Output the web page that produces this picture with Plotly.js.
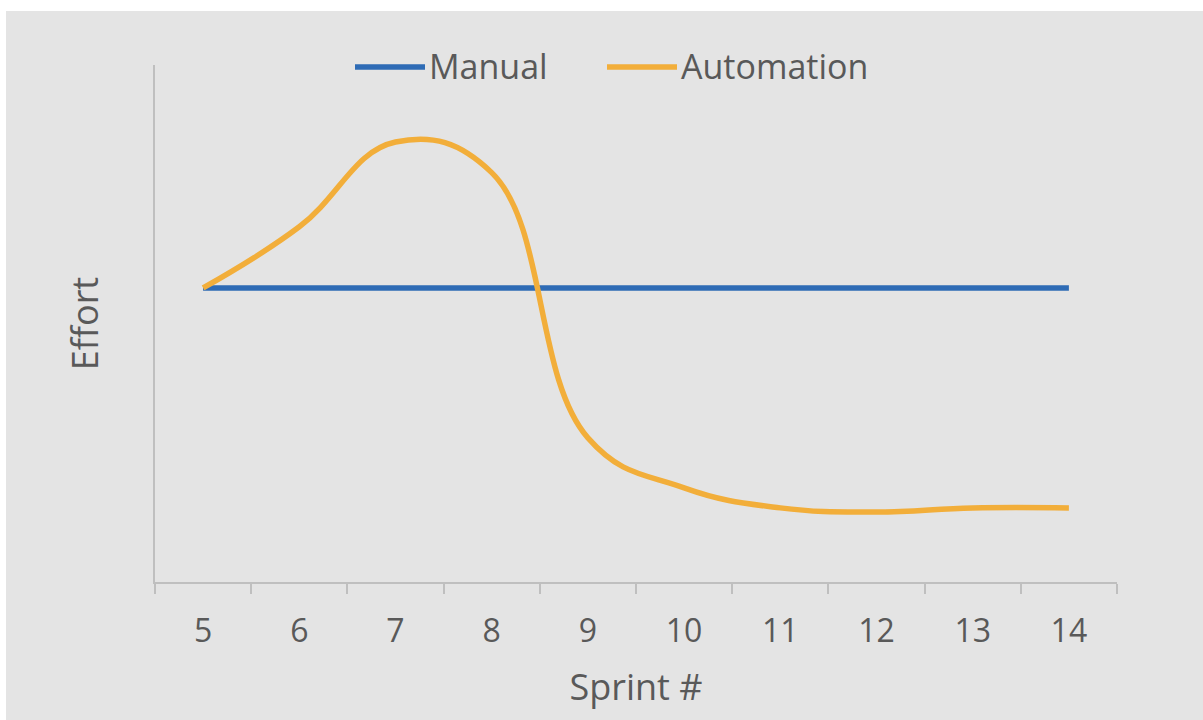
<!DOCTYPE html>
<html>
<head>
<meta charset="utf-8">
<script src="https://cdn.plot.ly/plotly-3.0.1.min.js"></script>
<style>
  html, body { margin: 0; padding: 0; background: #ffffff; width: 1203px; height: 720px; overflow: hidden; }
  #chart { position: absolute; left: 6px; top: 11px; width: 1197px; height: 709px; }
</style>
</head>
<body>
<div id="chart"></div>
<script>
// Data
const sprints = ["5", "6", "7", "8", "9", "10", "11", "12", "13", "14"];
const manualEffort = [50, 50, 50, 50, 50, 50, 50, 50, 50, 50];
const automationEffort = [50, 60.4, 74.8, 69.6, 24.5, 16.0, 12.6, 11.9, 12.6, 12.6];
const seriesNames = ["Manual", "Automation"];
const seriesColors = ["#2e6bb5", "#f2ae3a"];

const textColor = "#595959";
const axisColor = "#bfbfbf";
const fontFamily = "'Open Sans', 'Segoe UI', sans-serif";

const traces = [
  { x: sprints, y: manualEffort, name: seriesNames[0], type: "scatter", mode: "lines",
    line: { color: seriesColors[0], width: 5.5, shape: "spline" }, hoverinfo: "x+y+name" },
  { x: sprints, y: automationEffort, name: seriesNames[1], type: "scatter", mode: "lines",
    line: { color: seriesColors[1], width: 5.5, shape: "spline", smoothing: 1.2 }, hoverinfo: "x+y+name" }
];

// Custom legend (built from the series names/colours), centred above the plot
const legendShapes = [];
const legendAnnots = [];
const legendItems = [
  { x0: 349, name: seriesNames[0], color: seriesColors[0] },
  { x0: 601, name: seriesNames[1], color: seriesColors[1] }
];
const plotL = 149, plotW = 1197 - 149 - 86, plotT = 54, plotH = 709 - 54 - 138;
function px2paperX(px) { return (px - plotL) / plotW; }
function px2paperY(py) { return 1 - (py - plotT) / plotH; }
legendItems.forEach(it => {
  legendShapes.push({ type: "line", xref: "paper", yref: "paper",
    x0: px2paperX(it.x0), x1: px2paperX(it.x0 + 70), y0: px2paperY(56), y1: px2paperY(56),
    line: { color: it.color, width: 5.5 } });
  legendAnnots.push({ xref: "paper", yref: "paper", x: px2paperX(it.x0 + 72), y: px2paperY(55),
    xanchor: "left", yanchor: "middle", showarrow: false, text: it.name,
    font: { family: fontFamily, size: 34, color: textColor } });
});

const layout = {
  width: 1197, height: 709,
  margin: { l: plotL, r: 86, t: plotT, b: 138, pad: 0 },
  paper_bgcolor: "#e4e4e4",
  plot_bgcolor: "#e4e4e4",
  showlegend: false,
  font: { family: fontFamily, color: textColor, size: 30 },
  xaxis: {
    type: "category",
    range: [-0.5, 9.5],
    tickson: "boundaries",
    ticks: "outside", ticklen: 10, tickwidth: 2, tickcolor: axisColor,
    showline: true, linecolor: axisColor, linewidth: 2,
    showgrid: false, zeroline: false,
    tickfont: { family: fontFamily, size: 32, color: textColor },
    ticklabelstandoff: 20,
    title: { text: "Sprint #", font: { family: fontFamily, size: 36, color: textColor }, standoff: 24 }
  },
  yaxis: {
    range: [0, 87.9],
    showline: true, linecolor: axisColor, linewidth: 2,
    showgrid: false, zeroline: false, showticklabels: false, ticks: "",
    title: { text: "Effort", font: { family: fontFamily, size: 36, color: textColor }, standoff: 43 }
  },
  shapes: legendShapes,
  annotations: legendAnnots
};

Plotly.newPlot("chart", traces, layout, { displayModeBar: false, staticPlot: true });
</script>
</body>
</html>
